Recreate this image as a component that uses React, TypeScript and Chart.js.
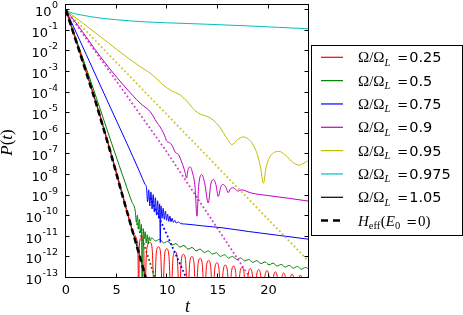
import React, { useEffect, useRef } from "react";
import { Chart, registerables } from "chart.js";

Chart.register(...registerables);

// ---- axes ----
const xMin = 0;
const xMax = 24;
const yMin = 1e-13;
const yMax = 1.8;
const xTickValues = [0, 5, 10, 15, 20];
const yTickExponents = ["0", "-1", "-2", "-3", "-4", "-5", "-6", "-7", "-8", "-9", "-10", "-11", "-12", "-13"];

// ---- legend ----
const ratioLabels = ["0.25", "0.5", "0.75", "0.9", "0.95", "0.975", "1.05"];
const seriesColors = ["#ff0000", "#008000", "#0000ff", "#bf00bf", "#bfbf00", "#00bfbf", "#000000"];

// ---- curves: [t, log10 P(t)] ----
const redCurve: [number, number][] = [
  [0, 0], [1, -1.48], [2.9, -4.35], [4.37, -6.78], [5.5, -8.78], [6.3, -10.25], [6.6, -10.8],
  [6.85, -10.95], [7.0, -11.15], [7.1, -11.5], [7.17, -14], [7.25, -11.4], [7.4, -11.05],
  [7.55, -11.0], [7.68, -11.5], [7.77, -14],
  [7.97, -11.6], [8.3, -11.28], [8.51, -11.58], [8.72, -14],
  [8.92, -11.78], [9.13, -11.48], [9.34, -11.78], [9.54, -14],
  [9.74, -11.88], [9.95, -11.58], [10.16, -11.88], [10.37, -14],
  [10.57, -12.02], [10.78, -11.72], [10.99, -12.02], [11.19, -14],
  [11.39, -12.15], [11.6, -11.85], [11.81, -12.15], [12.02, -14],
  [12.22, -12.26], [12.43, -11.96], [12.64, -12.26], [12.84, -14],
  [13.04, -12.35], [13.25, -12.05], [13.46, -12.35], [13.67, -14],
  [13.87, -12.45], [14.08, -12.15], [14.29, -12.45], [14.49, -14],
  [14.69, -12.57], [14.9, -12.27], [15.11, -12.57], [15.32, -14],
  [15.52, -12.67], [15.73, -12.37], [15.94, -12.67], [16.14, -14],
  [16.34, -12.72], [16.55, -12.42], [16.76, -12.72], [16.97, -14],
  [17.17, -12.78], [17.38, -12.48], [17.59, -12.78], [17.79, -14],
  [17.99, -12.84], [18.2, -12.54], [18.41, -12.84], [18.62, -14],
  [18.82, -12.89], [19.03, -12.59], [19.24, -12.89], [19.44, -14],
  [19.64, -12.94], [19.85, -12.64], [20.06, -12.94], [20.27, -14],
  [20.47, -13.0], [20.68, -12.7], [20.89, -13.0], [21.09, -14],
  [21.29, -13.06], [21.5, -12.76], [21.71, -13.06], [21.92, -14],
  [22.12, -13.11], [22.33, -12.81], [22.54, -13.11], [22.74, -14],
  [22.94, -13.16], [23.15, -12.86], [23.36, -13.16], [23.57, -14],
  [23.77, -13.2], [23.98, -12.9], [24.2, -13.2],
];

const greenCurve: [number, number][] = [
  [0, 0], [1.5, -2.1], [3, -4.25], [4.5, -6.45], [6, -8.6], [6.5, -9.3], [6.84, -9.75],
  [6.95, -10.3], [7.05, -9.95], [7.15, -10.6], [7.25, -10.15], [7.35, -10.8], [7.45, -10.4],
  [7.53, -14], [7.62, -10.6], [7.72, -11.1], [7.82, -10.75], [7.92, -11.3], [8.02, -10.9],
  [8.12, -11.35], [8.22, -11.0], [8.32, -11.2],
  [8.45, -11.05], [8.85, -11.2], [9.25, -11.12], [9.65, -11.3], [10.05, -11.22], [10.45, -11.4],
  [10.85, -11.33], [11.25, -11.5], [11.65, -11.42], [12.05, -11.6], [12.45, -11.52], [12.85, -11.68],
  [13.25, -11.6], [13.65, -11.76], [14.05, -11.68], [14.45, -11.84], [14.85, -11.77], [15.25, -11.95],
  [15.65, -11.87], [16.05, -12.03], [16.45, -11.95], [16.85, -12.1], [17.25, -12.02], [17.65, -12.17],
  [18.05, -12.1], [18.45, -12.24], [18.85, -12.16], [19.25, -12.3], [19.65, -12.22], [20.05, -12.36],
  [20.45, -12.28], [20.85, -12.42], [21.25, -12.34], [21.65, -12.47], [22.05, -12.39], [22.45, -12.52],
  [22.85, -12.44], [23.25, -12.57], [23.65, -12.49], [24.05, -12.6],
];

const blueCurve: [number, number][] = [
  [0, 0], [2, -2.15], [4.04, -4.35], [6, -6.45], [7.32, -7.9], [7.8, -8.45],
  [7.95, -8.62], [8.06, -9.3], [8.17, -8.72], [8.28, -9.5], [8.39, -8.82], [8.5, -9.65],
  [8.61, -8.95], [8.72, -9.8], [8.83, -9.1], [8.94, -9.95], [9.05, -9.25], [9.16, -10.1],
  [9.25, -9.4], [9.31, -11.28], [9.38, -9.5], [9.49, -10.1], [9.6, -9.62], [9.71, -10.15],
  [9.82, -9.75], [9.93, -10.2], [10.04, -9.9], [10.15, -10.25], [10.26, -10.0], [10.37, -10.27],
  [10.48, -10.1], [10.6, -10.3], [10.75, -10.2], [10.9, -10.33], [11.1, -10.28], [11.35, -10.36],
  [11.8, -10.38], [13.5, -10.47], [15.4, -10.56], [18, -10.74], [21, -10.93], [24, -11.12],
];

const magentaCurve: [number, number][] = [
  [0, 0], [1, -0.62], [3.39, -2.25], [5, -3.25], [6.67, -4.18], [7.3, -4.5], [7.8, -4.7],
  [8.14, -4.83], [8.5, -5.05], [8.8, -5.31], [9.46, -5.8], [9.75, -6.1], [9.95, -6.36],
  [10.2, -6.42], [10.46, -6.55], [10.8, -6.9], [11.1, -7.0], [11.45, -7.4], [11.75, -7.85],
  [11.9, -8.15], [12.05, -7.75], [12.25, -7.6], [12.5, -7.9], [12.75, -8.6], [12.93, -10.0],
  [13.1, -8.55], [13.4, -7.98], [13.7, -8.4], [14.05, -9.36], [14.3, -8.45], [14.55, -8.22],
  [14.8, -8.45], [15.04, -9.04], [15.3, -8.55], [15.53, -8.46], [15.8, -8.6], [16.02, -8.86],
  [16.25, -8.66], [16.5, -8.62], [16.75, -8.7], [17.0, -8.78], [17.3, -8.72], [17.7, -8.76],
  [18.2, -8.86], [20, -9.0], [22, -9.13], [24, -9.27],
];

const yellowCurve: [number, number][] = [
  [0, 0], [1, -0.38], [3.4, -1.28], [5, -1.9], [7.3, -2.73], [8.3, -3.05], [9.0, -3.35],
  [9.6, -3.62], [10.3, -3.88], [11.3, -4.12], [12.0, -4.45], [12.7, -4.85], [13.3, -5.05],
  [13.8, -5.13], [14.25, -5.23], [14.8, -5.45], [15.25, -5.72], [15.8, -6.15], [16.4, -6.52],
  [16.9, -6.3], [17.5, -6.15], [18.0, -6.25], [18.5, -6.55], [18.9, -7.0], [19.2, -7.6],
  [19.5, -8.4], [19.75, -7.65], [20.1, -7.15], [20.5, -6.92], [21.0, -6.85], [21.6, -7.0],
  [22.1, -7.25], [22.6, -7.45], [23.0, -7.52], [23.5, -7.42], [24, -7.27],
];

const cyanCurve: [number, number][] = [
  [0, 0], [0.4, -0.1], [1.4, -0.22], [3.4, -0.38], [5, -0.46], [7.3, -0.55], [10, -0.61],
  [14, -0.68], [18, -0.76], [21, -0.83], [24, -0.9],
];

const blackCurve: [number, number][] = [
  [0, 0], [1, -1.5], [2.9, -4.4], [4.37, -6.85], [5.5, -8.86], [6.5, -10.6], [7.66, -12.6], [8.2, -13.6],
];

const heffCurve: [number, number][] = [
  [0, 0], [1, -1.5], [2.9, -4.4], [4.37, -6.85], [5.5, -8.86], [6.5, -10.6], [7.66, -12.6], [8.2, -13.6],
];

// dotted reference decays (only where they separate from the solid curves)
const greenDotted: [number, number][] = [[7.0, -10.34], [9.0, -13.3]];
const blueDotted: [number, number][] = [[8.3, -9.08], [12.2, -13.35]];
const magentaDotted: [number, number][] = [[0, 0], [9.8, -6.77], [18.6, -13.3]];
const yellowDotted: [number, number][] = [[0, 0], [24, -12.2]];

const toPoints = (c: [number, number][]) => c.map(([t, e]) => ({ x: t, y: Math.pow(10, e) }));

const solidSet = (c: [number, number][], color: string) => ({
  data: toPoints(c),
  borderColor: color,
  borderWidth: 1,
  pointRadius: 0,
  fill: false,
  cubicInterpolationMode: "monotone",
  clip: 0,
});

const dottedSet = (c: [number, number][], color: string) => ({
  data: toPoints(c),
  borderColor: color,
  borderWidth: 1.8,
  borderDash: [1.8, 2.4],
  borderCapStyle: "butt",
  pointRadius: 0,
  fill: false,
  tension: 0,
  clip: 0,
});

type Run = { text: string; font: string; dy?: number; dx?: number };
function drawRuns(ctx: CanvasRenderingContext2D, x: number, y: number, runs: Run[]) {
  let cx = x;
  for (const r of runs) {
    ctx.font = r.font;
    cx += r.dx || 0;
    ctx.fillText(r.text, cx, y + (r.dy || 0));
    cx += ctx.measureText(r.text).width;
  }
  return cx;
}
function runsWidth(ctx: CanvasRenderingContext2D, runs: Run[]) {
  let w = 0;
  for (const r of runs) {
    ctx.font = r.font;
    w += (r.dx || 0) + ctx.measureText(r.text).width;
  }
  return w;
}

const SERIF = '"Liberation Serif"';
const SANS = '"DejaVu Sans"';

const overlay = {
  id: "overlay",
  afterDraw(chart: any) {
    const ctx = chart.ctx as CanvasRenderingContext2D;
    const a = chart.chartArea;
    const xs = chart.scales.x;
    const ys = chart.scales.y;
    ctx.save();
    ctx.strokeStyle = "#000";
    ctx.fillStyle = "#000";
    ctx.lineWidth = 1;
    ctx.setLineDash([]);
    const L = a.left - 0.5;
    const R = a.right - 0.5;
    const T = a.top - 0.5;
    const B = a.bottom - 0.5;
    ctx.strokeRect(L, T, R - L, B - T);
    ctx.beginPath();
    for (const e of yTickExponents) {
      const y = Math.round(ys.getPixelForValue(Math.pow(10, Number(e)))) - 0.5;
      ctx.moveTo(L, y);
      ctx.lineTo(L + 4, y);
      ctx.moveTo(R, y);
      ctx.lineTo(R - 4, y);
    }
    for (const t of xTickValues) {
      const x = Math.round(xs.getPixelForValue(t)) - 0.5;
      ctx.moveTo(x, B);
      ctx.lineTo(x, B - 4);
      ctx.moveTo(x, T);
      ctx.lineTo(x, T + 4);
    }
    ctx.stroke();

    // y tick labels 10^e
    ctx.textAlign = "left";
    ctx.textBaseline = "alphabetic";
    for (const e of yTickExponents) {
      const y = ys.getPixelForValue(Math.pow(10, Number(e)));
      ctx.font = `9.5px ${SANS}`;
      const ws = ctx.measureText(e).width;
      ctx.font = `13px ${SANS}`;
      const wb = ctx.measureText("10").width;
      const right = a.left - 8;
      ctx.fillText("10", right - ws - wb - 0.5, y + 5.7);
      ctx.font = `9.5px ${SANS}`;
      ctx.fillText(e, right - ws, y - 2);
    }
    // x tick labels
    ctx.textAlign = "center";
    ctx.font = `13px ${SANS}`;
    for (const t of xTickValues) {
      ctx.fillText(String(t), xs.getPixelForValue(t), 294);
    }
    ctx.textAlign = "left";

    // axis titles
    const xTitle: Run[] = [{ text: "t", font: `italic 18px ${SERIF}` }];
    const cxT = (a.left + a.right) / 2;
    drawRuns(ctx, cxT - runsWidth(ctx, xTitle) / 2, 312, xTitle);

    const yTitle: Run[] = [
      { text: "P", font: `italic 17px ${SERIF}` },
      { text: "(", font: `17px ${SERIF}` },
      { text: "t", font: `italic 17px ${SERIF}` },
      { text: ")", font: `17px ${SERIF}` },
    ];
    ctx.save();
    ctx.translate(12, (a.top + a.bottom) / 2 + 1);
    ctx.rotate(-Math.PI / 2);
    drawRuns(ctx, -runsWidth(ctx, yTitle) / 2, 0, yTitle);
    ctx.restore();

    // legend
    const boxL = 311.5;
    const boxT = 45.5;
    const boxW = 151;
    const boxH = 190;
    ctx.fillStyle = "#fff";
    ctx.fillRect(boxL, boxT, boxW, boxH);
    ctx.strokeStyle = "#000";
    ctx.lineWidth = 1;
    ctx.strokeRect(boxL, boxT, boxW, boxH);
    ctx.fillStyle = "#000";
    const row0 = 57.3;
    const step = 23.33;
    const swL = 321;
    const swR = 343;
    const textX = 358;
    ratioLabels.forEach((lab, i) => {
      const y = row0 + step * i;
      ctx.strokeStyle = seriesColors[i];
      ctx.lineWidth = 1.2;
      ctx.beginPath();
      ctx.moveTo(swL, y);
      ctx.lineTo(swR, y);
      ctx.stroke();
      drawRuns(ctx, textX, y + 5, [
        { text: "Ω/Ω", font: `15px ${SERIF}` },
        { text: "L", font: `italic 10.5px ${SERIF}`, dy: 3.5 },
        { text: "=", font: `13px ${SANS}`, dx: 7 },
        { text: lab, font: `14.5px ${SANS}`, dx: 1 },
      ]);
    });
    const yH = row0 + step * 7;
    ctx.strokeStyle = "#000";
    ctx.lineWidth = 2.5;
    ctx.setLineDash([7, 5]);
    ctx.beginPath();
    ctx.moveTo(swL, yH);
    ctx.lineTo(swR, yH);
    ctx.stroke();
    ctx.setLineDash([]);
    drawRuns(ctx, textX, yH + 5, [
      { text: "H", font: `italic 15px ${SERIF}` },
      { text: "eff", font: `10.5px ${SERIF}`, dy: 3.5 },
      { text: "(", font: `15px ${SERIF}`, dx: 0.5 },
      { text: "E", font: `italic 15px ${SERIF}` },
      { text: "0", font: `10.5px ${SERIF}`, dy: 3.5 },
      { text: "=", font: `13px ${SANS}`, dx: 6 },
      { text: "0)", font: `15px ${SERIF}`, dx: 1 },
    ]);
    ctx.restore();
  },
};

export default function App() {
  const ref = useRef<HTMLCanvasElement>(null);
  useEffect(() => {
    const canvas = ref.current;
    if (!canvas) return;
    // index 0 is drawn on top
    const datasets: any[] = [
      {
        ...solidSet(heffCurve, "#000000"),
        borderWidth: 2.6,
        borderDash: [6, 3.5],
        tension: 0,
        cubicInterpolationMode: "default",
      },
      dottedSet(yellowDotted, "rgba(191,191,0,0.85)"),
      dottedSet(magentaDotted, "rgba(191,0,191,0.75)"),
      dottedSet(blueDotted, "#0000ff"),
      dottedSet(greenDotted, "#008000"),
      solidSet(redCurve, seriesColors[0]),
      solidSet(cyanCurve, seriesColors[5]),
      solidSet(yellowCurve, seriesColors[4]),
      solidSet(magentaCurve, seriesColors[3]),
      solidSet(blueCurve, seriesColors[2]),
      solidSet(greenCurve, seriesColors[1]),
      solidSet(blackCurve, seriesColors[6]),
    ];
    const chart = new Chart(canvas, {
      type: "line",
      data: { datasets },
      options: {
        responsive: false,
        maintainAspectRatio: false,
        devicePixelRatio: 1,
        animation: false,
        events: [],
        layout: { padding: { left: 0, right: 154, top: 5, bottom: 0 } },
        plugins: { legend: { display: false }, tooltip: { enabled: false } },
        scales: {
          x: {
            type: "linear",
            min: xMin,
            max: xMax,
            grid: { display: false },
            border: { display: false },
            ticks: { display: false },
            afterFit: (s: any) => {
              s.height = 37;
            },
          },
          y: {
            type: "logarithmic",
            min: yMin,
            max: yMax,
            grid: { display: false },
            border: { display: false },
            ticks: { display: false },
            afterFit: (s: any) => {
              s.width = 66;
            },
          },
        },
      } as any,
      plugins: [overlay],
    });
    return () => chart.destroy();
  }, []);
  return (
    <div style={{ position: "absolute", left: 0, top: 0, width: 463, height: 315, background: "#fff" }}>
      <canvas ref={ref} width={463} height={315} style={{ display: "block", width: 463, height: 315 }} />
    </div>
  );
}
